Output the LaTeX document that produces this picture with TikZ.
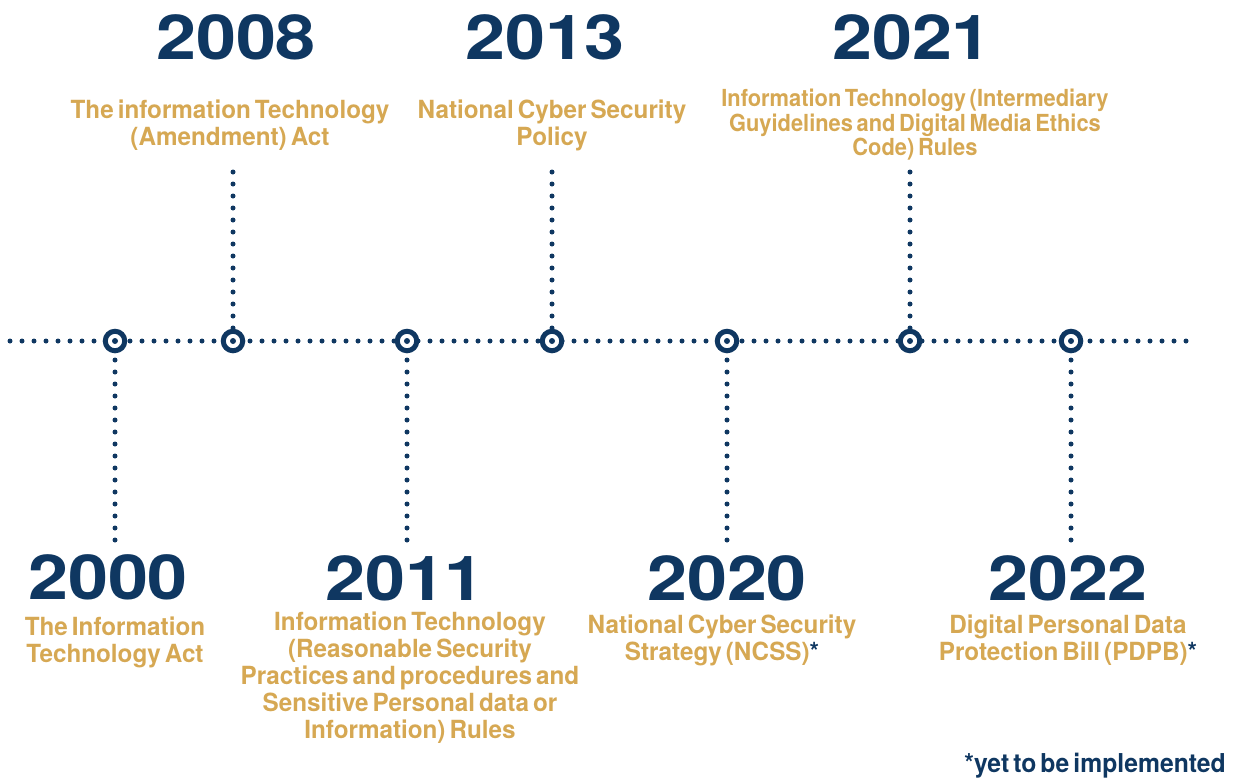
\documentclass[tikz,border=0pt]{standalone}
\usepackage{fontspec}
\usetikzlibrary{backgrounds}
\newfontfamily\goldfont[FakeStretch=0.97,WordSpace=0.6]{TeX Gyre Heros}
\newfontfamily\smallgold[FakeStretch=0.93,WordSpace=0.6]{TeX Gyre Heros}
\newfontfamily\notefont[FakeStretch=0.95,WordSpace=0.6]{TeX Gyre Heros}
\newfontfamily\yearfont[FakeStretch=1.16]{TeX Gyre Heros}
\definecolor{navy}{HTML}{0F3761}
\definecolor{gold}{HTML}{D6A853}
\tikzset{
  dotline/.style={navy, line width=5pt, line cap=round, dash pattern=on 0pt off 12pt},
  milestone/.style={circle, draw=navy, line width=5pt, fill=white, minimum size=19.5pt, inner sep=0pt,
    path picture={\fill[navy] (path picture bounding box.center) circle (3pt);}},
  yeartext/.style={navy, inner sep=0pt, font=\yearfont\bfseries\fontsize{62}{62}\selectfont},
  eventtext/.style={gold, inner sep=0pt, align=center, font=\goldfont\bfseries\fontsize{25}{27}\selectfont},
  smalltext/.style={gold, inner sep=0pt, align=center, font=\smallgold\bfseries\fontsize{23.5}{24.5}\selectfont},
  notetext/.style={navy, inner sep=0pt, font=\notefont\bfseries\fontsize{26}{27}\selectfont}
}
\begin{document}
\begin{tikzpicture}[x=1pt,y=-1pt]
\useasboundingbox (0,0) rectangle (1243,782);
% timeline ends
\coordinate (L) at (10,341);
\coordinate (R) at (1186,341);
% milestones
\node[milestone] (m2000) at (115,341) {};
\node[milestone] (m2008) at (233,341) {};
\node[milestone] (m2011) at (407,341) {};
\node[milestone] (m2013) at (552,341) {};
\node[milestone] (m2020) at (727,341) {};
\node[milestone] (m2021) at (910,341) {};
\node[milestone] (m2022) at (1071,341) {};
% free ends of the stems
\coordinate (e2000) at (115,540);
\coordinate (e2008) at (233,172);
\coordinate (e2011) at (407,540);
\coordinate (e2013) at (552,172);
\coordinate (e2020) at (727,540);
\coordinate (e2021) at (910,172);
\coordinate (e2022) at (1071,540);
\begin{pgfonlayer}{background}
\draw[dotline] (L) -- (R);
\foreach \y in {2000,2008,2011,2013,2020,2021,2022}{
  \draw[dotline] (e\y) -- (m\y.center);
}
\end{pgfonlayer}
% years
\node[yeartext] (y2008) at (236,37) {2008};
\node[yeartext] (y2013) at (545,37) {2013};
\node[yeartext] (y2021) at (912,37) {2021};
\node[yeartext] (y2000) at (108,577) {2000};
\node[yeartext] (y2011) at (405,578) {2011};
\node[yeartext] (y2020) at (727,578) {2020};
\node[yeartext] (y2022) at (1068,578) {2022};
% events
\node[eventtext] (t2008) at (230,125) {The information Technology\\(Amendment) Act};
\node[eventtext] (t2013) at (552,125) {National Cyber Security\\Policy};
\node[smalltext] (t2021) at (915,125) {Information Technology (Intermediary\\Guyidelines and Digital Media Ethics\\Code) Rules};
\node[eventtext] (t2000) at (115,642) {The Information\\Technology Act};
\node[eventtext] (t2011) at (410,678) {Information Technology\\(Reasonable Security\\Practices and procedures and\\Sensitive Personal data or\\Information) Rules};
\node[eventtext] (t2020) at (722,640) {National Cyber Security\\Strategy (NCSS)\textcolor{navy}{*}};
\node[eventtext] (t2022) at (1068,640) {Digital Personal Data\\Protection Bill (PDPB)\textcolor{navy}{*}};
\node[notetext, anchor=east] (note) at (1226,766) {*yet to be implemented};
\end{tikzpicture}
\end{document}
